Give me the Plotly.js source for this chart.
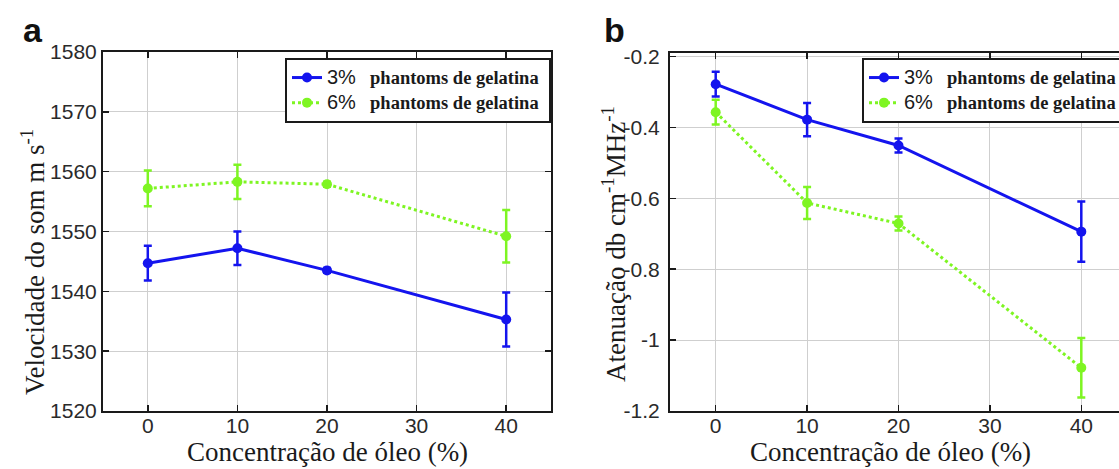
<!DOCTYPE html>
<html>
<head>
<meta charset="utf-8">
<script src="https://cdn.plot.ly/plotly-3.0.1.min.js"></script>
<style>
  html, body { margin: 0; padding: 0; background: #fff; overflow: hidden; width: 1119px; height: 469px; }
  #chart { width: 1160px; height: 469px; }
</style>
</head>
<body>
<div id="chart"></div>
<script>
// Oil concentration (%) shared by both panels
const oilConc = [0, 10, 20, 40];

// Panel a: speed of sound (m/s)
const speed3 = [1544.7, 1547.2, 1543.5, 1535.3];
const speed3Err = [2.9, 2.8, 0.4, 4.5];
const speed6 = [1557.2, 1558.3, 1557.9, 1549.2];
const speed6Err = [3.0, 2.85, 0.4, 4.4];

// Panel b: attenuation (dB cm^-1 MHz^-1)
const atten3 = [-0.278, -0.378, -0.451, -0.694];
const atten3Err = [0.035, 0.047, 0.02, 0.085];
const atten6 = [-0.357, -0.613, -0.671, -1.078];
const atten6Err = [0.035, 0.045, 0.02, 0.084];

const xTicks = [0, 10, 20, 30, 40];
const speedTicks = [1520, 1530, 1540, 1550, 1560, 1570, 1580];
const attenTicks = [-1.2, -1, -0.8, -0.6, -0.4, -0.2];
const attenTickText = ['-1.2', '-1', '-0.8', '-0.6', '-0.4', '-0.2'];

const seriesNames = ['3%', '6%'];
const legendTail = 'phantoms de gelatina';

const W = 1160, H = 469;
const px = v => v / W;
const py = v => 1 - v / H;

const BLUE = '#1414ee';
const GREEN = '#7ef522';

function legendName(prefix) {
  return '<span style="font-size:20px">' + prefix + '</span>&nbsp;&nbsp;&nbsp;<span style="font-family:\'Liberation Serif\', serif;font-size:18.5px"><b>' +
    legendTail + '</b></span>&nbsp;';
}

function series(x, y, err, color, dash, xa, ya, leg, name) {
  return {
    x: x, y: y, type: 'scatter', mode: 'lines+markers',
    name: legendName(name), xaxis: xa, yaxis: ya, legend: leg,
    line: { color: color, width: 3, dash: dash },
    marker: { color: color, size: 10, symbol: 'circle' },
    error_y: { type: 'data', array: err, visible: true, color: color, thickness: 2.5, width: 4 }
  };
}

const data = [
  series(oilConc, speed3, speed3Err, BLUE, 'solid', 'x', 'y', 'legend', seriesNames[0]),
  series(oilConc, speed6, speed6Err, GREEN, 'dot', 'x', 'y', 'legend', seriesNames[1]),
  series(oilConc, atten3, atten3Err, BLUE, 'solid', 'x2', 'y2', 'legend2', seriesNames[0]),
  series(oilConc, atten6, atten6Err, GREEN, 'dot', 'x2', 'y2', 'legend2', seriesNames[1])
];

const tickFont = { family: 'Liberation Sans, Arial, sans-serif', size: 21, color: '#2a2a2a' };

function axisCommon(extra) {
  return Object.assign({
    showline: true, linecolor: '#1a1a1a', linewidth: 2, mirror: 'allticks',
    ticks: 'inside', ticklen: 6, tickwidth: 1.5, tickcolor: '#1a1a1a',
    showgrid: true, gridcolor: '#cfcfcf', gridwidth: 1,
    zeroline: false, tickfont: tickFont, fixedrange: true
  }, extra);
}

const legendBase = {
  bgcolor: '#ffffff', bordercolor: '#1a1a1a', borderwidth: 2,
  font: { family: 'Liberation Sans, Arial, sans-serif', size: 17, color: '#1a1a1a' },
  xanchor: 'left', yanchor: 'top', itemwidth: 30, tracegroupgap: 0,
  itemclick: false, itemdoubleclick: false
};

const titleFont = { family: 'Liberation Serif, Times New Roman, serif', size: 27, color: '#1a1a1a' };

const layout = {
  width: W, height: H,
  margin: { l: 0, r: 0, t: 0, b: 0 },
  paper_bgcolor: '#ffffff', plot_bgcolor: '#ffffff',
  showlegend: true,
  xaxis: axisCommon({ domain: [px(103), px(551)], range: [-5, 45], tickvals: xTicks, anchor: 'y', ticklabelstandoff: -5 }),
  yaxis: axisCommon({ domain: [py(411), py(52)], range: [1520, 1580], tickvals: speedTicks, anchor: 'x', ticklabelstandoff: 0 }),
  xaxis2: axisCommon({ domain: [px(670), px(1127)], range: [-5, 45], tickvals: xTicks, anchor: 'y2', ticklabelstandoff: -5 }),
  yaxis2: axisCommon({ domain: [py(411), py(53)], range: [-1.2, -0.19], tickvals: attenTicks, ticktext: attenTickText, anchor: 'x2', ticklabelstandoff: 4 }),
  legend: Object.assign({}, legendBase, { x: px(285), y: py(58) }),
  legend2: Object.assign({}, legendBase, { x: px(862), y: py(58) }),
  annotations: [
    { text: '<b>a</b>', xref: 'paper', yref: 'paper', x: px(33), y: py(30), showarrow: false,
      xanchor: 'center', yanchor: 'middle', font: { family: 'Liberation Sans, Arial, sans-serif', size: 34, color: '#111' } },
    { text: '<b>b</b>', xref: 'paper', yref: 'paper', x: px(614), y: py(30), showarrow: false,
      xanchor: 'center', yanchor: 'middle', font: { family: 'Liberation Sans, Arial, sans-serif', size: 34, color: '#111' } },
    { text: 'Concentração de óleo (%)', xref: 'paper', yref: 'paper', x: px(327), y: py(452), showarrow: false,
      xanchor: 'center', yanchor: 'middle', font: titleFont },
    { text: 'Concentração de óleo (%)', xref: 'paper', yref: 'paper', x: px(890), y: py(452), showarrow: false,
      xanchor: 'center', yanchor: 'middle', font: titleFont },
    { text: 'Velocidade do som m s<sup>-1</sup>', xref: 'paper', yref: 'paper', x: px(33), y: py(262), showarrow: false,
      textangle: -90, xanchor: 'center', yanchor: 'middle', font: titleFont },
    { text: 'Atenuação db cm<sup>-1</sup>MHz<sup>-1</sup>', xref: 'paper', yref: 'paper', x: px(614), y: py(244), showarrow: false,
      textangle: -90, xanchor: 'center', yanchor: 'middle', font: titleFont }
  ]
};

Plotly.newPlot('chart', data, layout, { displayModeBar: false, staticPlot: true });
</script>
</body>
</html>
